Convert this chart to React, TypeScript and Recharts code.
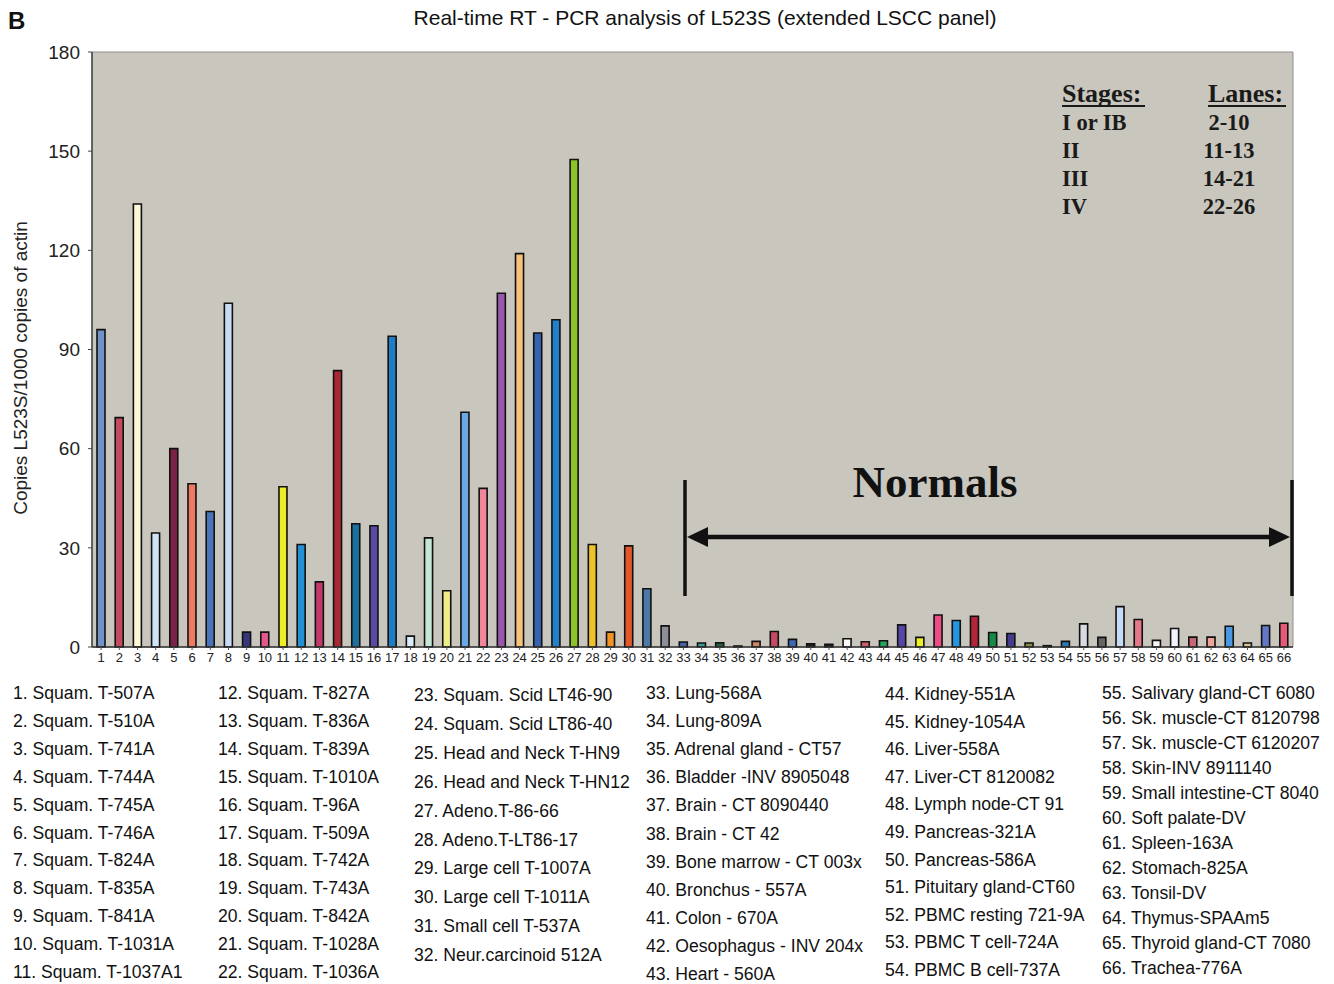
import React from 'react';
import { BarChart, Bar, XAxis, YAxis, Cell, ReferenceArea } from 'recharts';

// ---------- data ----------
const LANES: string[] = Array.from({ length: 66 }, (_, i) => String(i + 1));

const VALUES: number[] = [
  96, 69.4, 134, 34.5, 60, 49.4, 41, 104, 4.5, 4.5,
  48.5, 31, 19.7, 83.6, 37.3, 36.7, 94, 3.3, 33, 17,
  71, 48, 107, 119, 95, 99, 147.5, 31, 4.5, 30.6,
  17.6, 6.4, 1.5, 1.2, 1.3, 0.3, 1.7, 4.7, 2.3, 1.0,
  0.8, 2.5, 1.6, 1.9, 6.7, 2.9, 9.7, 8.0, 9.3, 4.4,
  4.1, 1.2, 0.4, 1.7, 7.0, 2.9, 12.2, 8.3, 2.0, 5.6,
  3.0, 3.0, 6.3, 1.2, 6.5, 7.2,
];

const COLORS: string[] = [
  '#6f93c9', '#c24b5e', '#fdf8d6', '#cfe4f6', '#7b2346', '#ef7a62', '#4a74b9', '#c9daf5', '#373779', '#e4578a',
  '#eeee22', '#2290d2', '#c23a6a', '#a82934', '#1d6f9f', '#5a4aa4', '#1e7dc4', '#dcecfb', '#c6e6d6', '#eeee88',
  '#6aa9e6', '#ef8699', '#9958ae', '#f7c27c', '#3563b1', '#2180c9', '#8dc22a', '#efc22a', '#f29326', '#e2582a',
  '#4d79a9', '#8e8e96', '#4862a8', '#3a9a9a', '#23603e', '#7a3020', '#d08464', '#c44a64', '#3c68b4', '#1e1e1e',
  '#222222', '#fafafa', '#d45c6a', '#22a45a', '#5646a6', '#eef022', '#ee4c84', '#2496de', '#b22638', '#168a48',
  '#443c8c', '#8a8a44', '#2a2a44', '#2a78b4', '#d8dae2', '#666666', '#c6dcf6', '#e27888', '#f6f6f6', '#f2f2fe',
  '#c46674', '#f0a496', '#4a98e4', '#d4c494', '#6676c6', '#e45a78',
];

const Y_TICKS: number[] = [0, 30, 60, 90, 120, 150, 180];

const SAMPLE_NAMES: string[] = [
  '1. Squam. T-507A', '2. Squam. T-510A', '3. Squam. T-741A', '4. Squam. T-744A', '5. Squam. T-745A',
  '6. Squam. T-746A', '7. Squam. T-824A', '8. Squam. T-835A', '9. Squam. T-841A', '10. Squam. T-1031A',
  '11. Squam. T-1037A1',
  '12. Squam. T-827A', '13. Squam. T-836A', '14. Squam. T-839A', '15. Squam. T-1010A', '16. Squam. T-96A',
  '17. Squam. T-509A', '18. Squam. T-742A', '19. Squam. T-743A', '20. Squam. T-842A', '21. Squam. T-1028A',
  '22. Squam. T-1036A',
  '23. Squam. Scid LT46-90', '24. Squam. Scid LT86-40', '25. Head and Neck T-HN9', '26. Head and Neck T-HN12',
  '27. Adeno.T-86-66', '28. Adeno.T-LT86-17', '29. Large cell T-1007A', '30. Large cell T-1011A',
  '31. Small cell T-537A', '32. Neur.carcinoid 512A',
  '33. Lung-568A', '34. Lung-809A', '35. Adrenal gland - CT57', '36. Bladder -INV 8905048',
  '37. Brain - CT 8090440', '38. Brain - CT 42', '39. Bone marrow - CT 003x', '40. Bronchus - 557A',
  '41. Colon - 670A', '42. Oesophagus - INV 204x', '43. Heart - 560A',
  '44. Kidney-551A', '45. Kidney-1054A', '46. Liver-558A', '47. Liver-CT 8120082', '48. Lymph node-CT 91',
  '49. Pancreas-321A', '50. Pancreas-586A', '51. Pituitary gland-CT60', '52. PBMC resting 721-9A',
  '53. PBMC T cell-724A', '54. PBMC B cell-737A',
  '55. Salivary gland-CT 6080', '56. Sk. muscle-CT 8120798', '57. Sk. muscle-CT 6120207', '58. Skin-INV 8911140',
  '59. Small intestine-CT 8040', '60. Soft palate-DV', '61. Spleen-163A', '62. Stomach-825A', '63. Tonsil-DV',
  '64. Thymus-SPAAm5', '65. Thyroid gland-CT 7080', '66. Trachea-776A',
];

const STAGES: string[] = ['I or IB', 'II', 'III', 'IV'];
const STAGE_LANES: string[] = ['2-10', '11-13', '14-21', '22-26'];

const TITLE = 'Real-time RT - PCR analysis of L523S (extended LSCC panel)';
const Y_LABEL = 'Copies L523S/1000 copies of actin';

const data = LANES.map((lane, i) => ({ lane, value: VALUES[i] }));

// legend column layout: [startIndex, count, x, y0, step]
const LEGEND_COLS: [number, number, number, number, number][] = [
  [0, 11, 13, 693, 27.9],
  [11, 11, 218, 693, 27.9],
  [22, 10, 414, 695, 28.9],
  [32, 11, 646, 693, 28.1],
  [43, 11, 885, 694, 27.6],
  [54, 12, 1102, 693, 25.0],
];

const SANS = '"Liberation Sans", Arial, Helvetica, sans-serif';
const SERIF = '"Liberation Serif", "Times New Roman", serif';

export default function App() {
  return (
    <div
      style={{
        position: 'absolute',
        left: 0,
        top: 0,
        width: 1334,
        height: 984,
        background: '#ffffff',
        overflow: 'hidden',
        fontFamily: SANS,
      }}
    >
      <BarChart
        width={1334}
        height={690}
        data={data}
        margin={{ top: 52, right: 41, left: 0, bottom: 0 }}
        barSize={8}
      >
        <ReferenceArea
          y1={0}
          y2={180}
          fill="#c9c6bd"
          fillOpacity={1}
          stroke="#8f8f8f"
          strokeWidth={1}
          ifOverflow="visible"
        />
        <XAxis
          dataKey="lane"
          interval={0}
          height={43}
          tickSize={3}
          tickMargin={3}
          axisLine={{ stroke: '#333', strokeWidth: 1.5 }}
          tickLine={{ stroke: '#555' }}
          tick={{ fontSize: 13, fill: '#222', fontFamily: SANS }}
        />
        <YAxis
          domain={[0, 180]}
          ticks={Y_TICKS}
          interval={0}
          width={92}
          tickSize={4}
          tickMargin={8}
          axisLine={{ stroke: '#444', strokeWidth: 1.5 }}
          tickLine={{ stroke: '#444' }}
          tick={{ fontSize: 19, fill: '#222', fontFamily: SANS }}
        />
        <Bar dataKey="value" stroke="#111" strokeWidth={1.6} isAnimationActive={false}>
          {data.map((d, i) => (
            <Cell key={d.lane} fill={COLORS[i]} />
          ))}
        </Bar>
      </BarChart>

      <svg
        width={1334}
        height={984}
        style={{ position: 'absolute', left: 0, top: 0, pointerEvents: 'none' }}
      >
        {/* panel letter and title */}
        <text x={8} y={29} fontSize={24} fontWeight="bold" fontFamily={SANS} fill="#111">B</text>
        <text x={705} y={25} fontSize={21} textAnchor="middle" fontFamily={SANS} fill="#111">{TITLE}</text>

        {/* y-axis title */}
        <text
          x={0}
          y={0}
          transform="translate(27,368) rotate(-90)"
          textAnchor="middle"
          fontSize={19}
          fontFamily={SANS}
          fill="#222"
        >
          {Y_LABEL}
        </text>

        {/* stages table */}
        <text x={1062} y={102} fontSize={26} fontWeight="bold" fontFamily={SERIF} fill="#1a1a1a">Stages:</text>
        <line x1={1062} x2={1145} y1={106} y2={106} stroke="#1a1a1a" strokeWidth={2} />
        <text x={1208} y={102} fontSize={26} fontWeight="bold" fontFamily={SERIF} fill="#1a1a1a">Lanes:</text>
        <line x1={1208} x2={1286} y1={106} y2={106} stroke="#1a1a1a" strokeWidth={2} />
        {STAGES.map((s, i) => (
          <text key={s} x={1062} y={130 + i * 28} fontSize={22.5} fontWeight="bold" fontFamily={SERIF} fill="#1a1a1a">
            {s}
          </text>
        ))}
        {STAGE_LANES.map((s, i) => (
          <text key={s} x={1229} y={130 + i * 28} fontSize={22.5} fontWeight="bold" fontFamily={SERIF} textAnchor="middle" fill="#1a1a1a">
            {s}
          </text>
        ))}

        {/* Normals annotation */}
        <text x={935} y={497} fontSize={45} fontWeight="bold" fontFamily={SERIF} textAnchor="middle" fill="#111">Normals</text>
        <line x1={685} x2={685} y1={480} y2={596} stroke="#111" strokeWidth={3.5} />
        <line x1={1292} x2={1292} y1={480} y2={596} stroke="#111" strokeWidth={3.5} />
        <line x1={700} x2={1277} y1={537} y2={537} stroke="#111" strokeWidth={4.5} />
        <polygon points="687,537 708,527 708,547" fill="#111" />
        <polygon points="1290,537 1269,527 1269,547" fill="#111" />

        {/* sample legend */}
        {LEGEND_COLS.map(([start, count, x, y0, step]) =>
          SAMPLE_NAMES.slice(start, start + count).map((name, k) => (
            <text
              key={name}
              x={x}
              y={y0 + k * step}
              dominantBaseline="central"
              fontSize={17.6}
              fontFamily={SANS}
              fill="#111"
            >
              {name}
            </text>
          ))
        )}
      </svg>
    </div>
  );
}
